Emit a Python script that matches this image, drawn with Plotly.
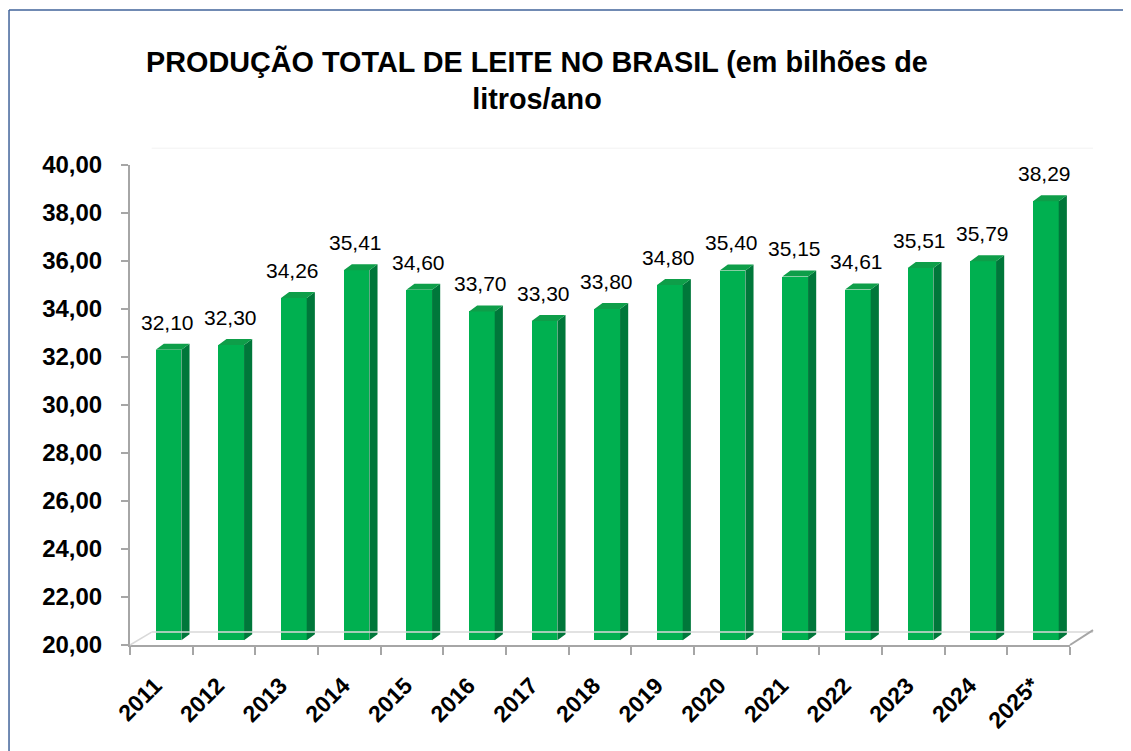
import plotly.graph_objects as go

anos = ['2011', '2012', '2013', '2014', '2015', '2016', '2017', '2018',
        '2019', '2020', '2021', '2022', '2023', '2024', '2025*']
producao = [32.10, 32.30, 34.26, 35.41, 34.60, 33.70, 33.30, 33.80,
            34.80, 35.40, 35.15, 34.61, 35.51, 35.79, 38.29]
y_ticks = [20, 22, 24, 26, 28, 30, 32, 34, 36, 38, 40]

FONT = 'Arial, Liberation Sans, sans-serif'
LIFT = 0.2           # the front plane of the fake 3D sits a bit above the axis
BASE = 20 + LIFT
DX, DY = 0.13, 0.25  # depth of the fake 3D (x in categories, y in units)
LEFT, RIGHT = -0.09, 0.32

pos = list(range(len(anos)))

fig = go.Figure()

# front faces
fig.add_trace(go.Bar(
    x=pos, y=[v - 20 for v in producao], base=BASE,
    width=RIGHT - LEFT, offset=LEFT,
    marker=dict(color='#00B050', line=dict(width=0)),
    hoverinfo='skip', showlegend=False))

# side and top faces
sx, sy, tx, ty = [], [], [], []
for i, v in zip(pos, producao):
    top = v + LIFT
    sx += [i + RIGHT, i + RIGHT + DX, i + RIGHT + DX, i + RIGHT, i + RIGHT, None]
    sy += [BASE, BASE + DY, top + DY, top, BASE, None]
    tx += [i + LEFT, i + RIGHT, i + RIGHT + DX, i + LEFT + DX, i + LEFT, None]
    ty += [top, top, top + DY, top + DY, top, None]

fig.add_trace(go.Scatter(x=sx, y=sy, mode='lines', fill='toself',
                         fillcolor='#00773A', line=dict(width=0, color='#00773A'),
                         hoverinfo='skip', showlegend=False))
fig.add_trace(go.Scatter(x=tx, y=ty, mode='lines', fill='toself',
                         fillcolor='#0E9E49', line=dict(width=0, color='#0E9E49'),
                         hoverinfo='skip', showlegend=False))

# data labels
for i, v in zip(pos, producao):
    fig.add_annotation(x=i + 0.1, y=v, text=f'{v:.2f}'.replace('.', ','),
                       showarrow=False, yanchor='bottom', yshift=19,
                       font=dict(family=FONT, size=21, color='#000000'))

# title
fig.add_annotation(xref='paper', yref='paper', x=0.433, y=1.177,
                   text='<b>PRODUÇÃO TOTAL DE LEITE NO BRASIL (em bilhões de<br>litros/ano</b>',
                   showarrow=False, xanchor='center', yanchor='middle', align='center',
                   font=dict(family=FONT, size=28.8, color='#000000'))

# floor of the 3D box and the outer frame
grey = '#A6A6A6'
fig.add_shape(type='line', xref='paper', yref='paper', x0=0.023, y0=0.027,
              x1=1.0245, y1=0.027, line=dict(color='#D9D9D9', width=1.5))
fig.add_shape(type='line', xref='paper', yref='paper', x0=0, y0=0,
              x1=0.023, y1=0.027, line=dict(color='#D9D9D9', width=1.5))
fig.add_shape(type='line', xref='paper', yref='paper', x0=1.0, y0=0,
              x1=1.0245, y1=0.031, line=dict(color=grey, width=2))
fig.add_shape(type='line', xref='paper', yref='paper', x0=0.023, y0=1.035,
              x1=1.0245, y1=1.035, line=dict(color='#F2F2F2', width=1))
fig.add_shape(type='line', xref='paper', yref='paper', x0=-0.1287, y0=-0.3,
              x1=-0.1287, y1=1.3229, line=dict(color='#41639A', width=1.5))
fig.add_shape(type='line', xref='paper', yref='paper', x0=-0.1287, y0=1.3229,
              x1=1.2, y1=1.3229, line=dict(color='#41639A', width=1.5))

fig.update_layout(
    width=1123, height=743,
    margin=dict(l=122, r=61, t=157, b=106),
    paper_bgcolor='white', plot_bgcolor='white',
    separators=',.',
    bargap=0,
    xaxis=dict(range=[-0.5, len(anos) - 0.5], tickmode='array',
               tickvals=[p - 0.1 for p in pos],
               ticktext=anos, tickangle=-45, ticks='', showgrid=False,
               zeroline=False, showline=True, linecolor=grey, linewidth=2,
               tickfont=dict(family=FONT, size=23, color='#000000', weight='bold'),
               ticklabelstandoff=16,
               minor=dict(tickvals=[p - 0.5 for p in pos] + [len(anos) - 0.5],
                          ticks='outside', ticklen=8, tickcolor=grey, tickwidth=2)),
    yaxis=dict(range=[20, 40], tickmode='array', tickvals=y_ticks,
               tickformat='.2f', ticks='outside', ticklen=7, tickcolor=grey,
               tickwidth=2, showgrid=False, zeroline=False, showline=True,
               linecolor=grey, linewidth=2, ticklabelstandoff=14,
               tickfont=dict(family=FONT, size=24, color='#000000', weight='bold')),
)

fig.write_html('out.html')
